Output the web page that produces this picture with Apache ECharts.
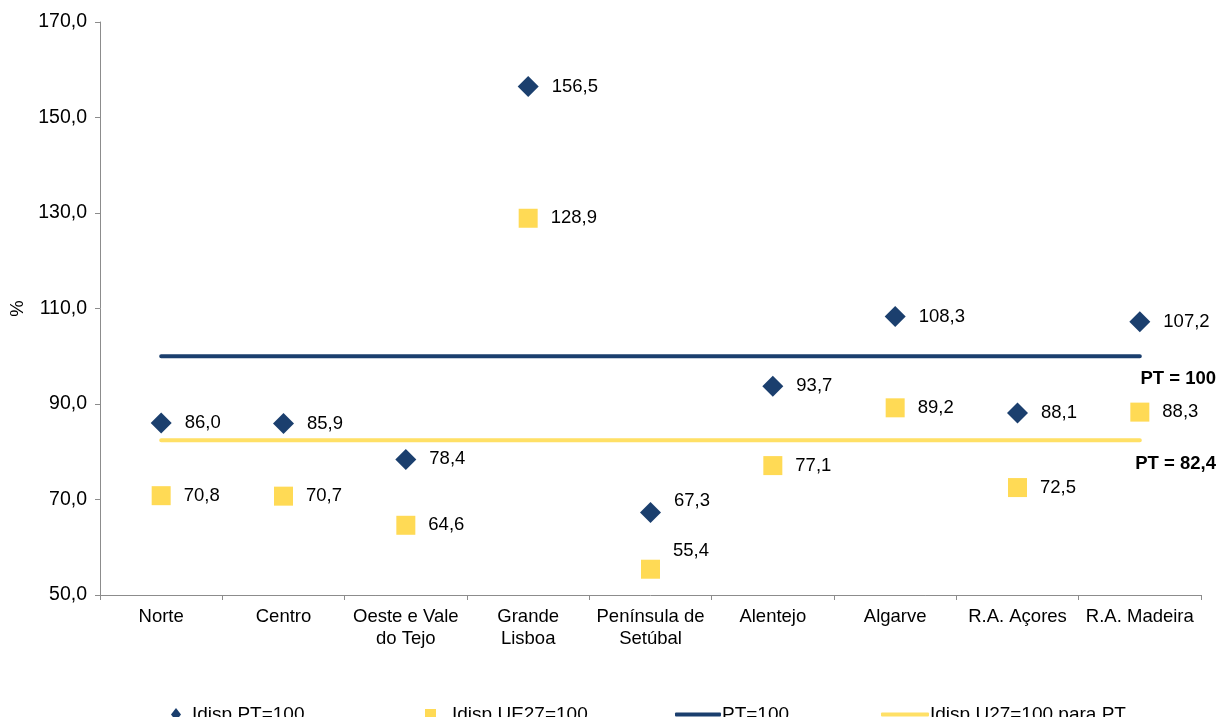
<!DOCTYPE html>
<html><head><meta charset="utf-8">
<script src="https://cdn.jsdelivr.net/npm/echarts@6/dist/echarts.min.js"></script>
<style>html,body{margin:0;padding:0;background:#fff}#c{width:1219px;height:717px}</style>
</head><body><div id="c"></div>
<script>
var categories = ['Norte','Centro','Oeste e Vale\ndo Tejo','Grande\nLisboa','Península de\nSetúbal','Alentejo','Algarve','R.A. Açores','R.A. Madeira'];
var idispPT = [86.0, 85.9, 78.4, 156.5, 67.3, 93.7, 108.3, 88.1, 107.2];
var idispUE = [70.8, 70.7, 64.6, 128.9, 55.4, 77.1, 89.2, 72.5, 88.3];
var linePT = [100,100,100,100,100,100,100,100,100];
var lineUE = [82.4,82.4,82.4,82.4,82.4,82.4,82.4,82.4,82.4];
var labelLiftPT = [0,0,0,0,11,0,0,0,0];
var labelLiftUE = [0,0,0,0,18,0,0,0,0];

var blue = '#1B3F6E', yellow = '#FFDA55', yellowLine = '#FFE066';
var font = 'Liberation Sans, Arial, sans-serif';
var FS = 18.5;
function fmt(v){ return v.toFixed(1).replace('.', ','); }
function pts(vals, lifts){
  return vals.map(function(v,i){
    return {value: v, label: {offset: [3, -lifts[i]]}};
  });
}
var chart = echarts.init(document.getElementById('c'), null, {renderer:'canvas'});
chart.setOption({
  animation: false,
  textStyle: {fontFamily: font},
  grid: {left: 100, right: 18, top: 22, bottom: 122, containLabel: false, outerBoundsMode: 'none'},
  xAxis: {
    type: 'category', data: categories, boundaryGap: true,
    axisLine: {lineStyle: {color: '#8c8c8c', width: 1}},
    axisTick: {show: true, length: 5, lineStyle: {color: '#8c8c8c'}},
    axisLabel: {color: '#000', fontSize: FS, margin: 11, lineHeight: 22, interval: 0, fontFamily: font}
  },
  yAxis: {
    type: 'value', min: 50, max: 170, interval: 20,
    name: '%', nameLocation: 'middle', nameGap: 73, nameRotate: 90,
    nameTextStyle: {color: '#000', fontSize: FS, fontFamily: font},
    axisLine: {show: true, lineStyle: {color: '#8c8c8c', width: 1}},
    axisTick: {show: true, length: 5, lineStyle: {color: '#8c8c8c'}},
    splitLine: {show: false},
    axisLabel: {color: '#000', fontSize: 19.5, margin: 13, formatter: function(v){return fmt(v);}, fontFamily: font}
  },
  legend: [
    {left: 166, top: 700, itemWidth: 10, itemHeight: 13, data: [{name: 'Idisp PT=100', icon: 'diamond'}], textStyle: {fontSize: 19, color: '#000', padding: [0,0,0,6], fontFamily: font}},
    {left: 420, top: 700, itemWidth: 11, itemHeight: 11, data: [{name: 'Idisp UE27=100', icon: 'rect'}], textStyle: {fontSize: 19, color: '#000', padding: [0,0,0,11], fontFamily: font}},
    {left: 670, top: 700, itemWidth: 46, itemHeight: 4, data: [{name: 'PT=100', icon: 'roundRect'}], textStyle: {fontSize: 19, color: '#000', padding: [0,0,0,-4], fontFamily: font}},
    {left: 876, top: 700, itemWidth: 48, itemHeight: 4, data: [{name: 'Idisp U27=100 para PT', icon: 'roundRect'}], textStyle: {fontSize: 19, color: '#000', padding: [0,0,0,-4], fontFamily: font}}
  ],
  graphic: [
    {type: 'text', right: 3, top: 369, style: {text: 'PT = 100', font: 'bold 18.5px ' + font, fill: '#000'}},
    {type: 'text', right: 3, top: 454, style: {text: 'PT = 82,4', font: 'bold 18.5px ' + font, fill: '#000'}}
  ],
  series: [
    {name: 'PT=100', type: 'line', data: linePT, symbol: 'none', z: 1,
     lineStyle: {color: blue, width: 4, cap: 'round'}, itemStyle: {color: blue}},
    {name: 'Idisp U27=100 para PT', type: 'line', data: lineUE, symbol: 'none', z: 1,
     lineStyle: {color: yellowLine, width: 4, cap: 'round'}, itemStyle: {color: yellowLine}},
    {name: 'Idisp PT=100', type: 'scatter', data: pts(idispPT, labelLiftPT), symbol: 'diamond', symbolSize: [21, 21], z: 3,
     itemStyle: {color: blue, opacity: 1},
     label: {show: true, position: 'right', distance: 10, color: '#000', fontSize: FS, fontFamily: font, formatter: function(p){return fmt(p.value);}}},
    {name: 'Idisp UE27=100', type: 'scatter', data: pts(idispUE, labelLiftUE), symbol: 'rect', symbolSize: [19, 19], z: 3,
     itemStyle: {color: yellow, opacity: 1},
     label: {show: true, position: 'right', distance: 10, color: '#000', fontSize: FS, fontFamily: font, formatter: function(p){return fmt(p.value);}}}
  ]
});
</script></body></html>
